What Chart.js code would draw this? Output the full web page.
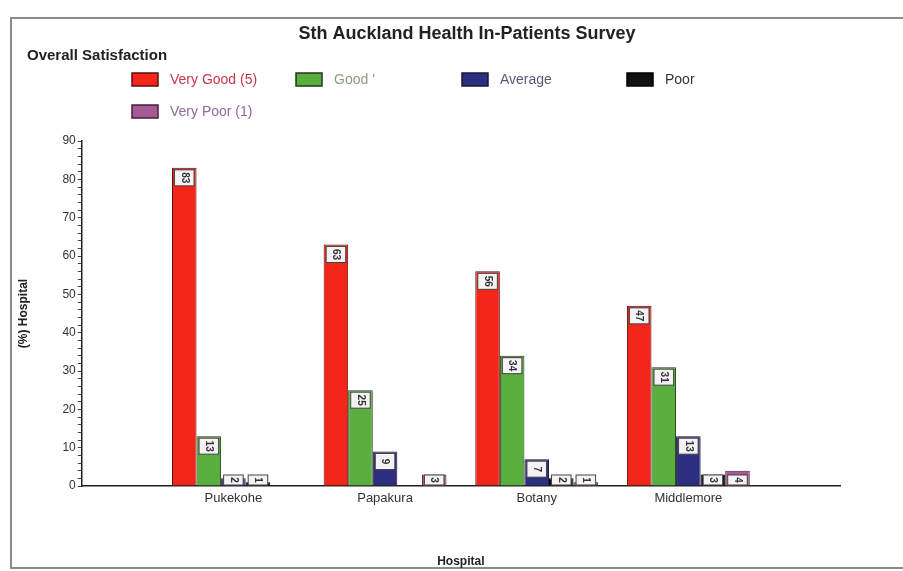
<!DOCTYPE html>
<html>
<head>
<meta charset="utf-8">
<script src="https://cdn.jsdelivr.net/npm/chart.js@4"></script>
<style>
  html, body { margin: 0; padding: 0; background: #fff; }
  #wrap { width: 903px; height: 571px; }
</style>
</head>
<body>
<div id="wrap"><canvas id="myChart" width="903" height="571"></canvas></div>
<script>
// Datos del gráfico
const hospitals = ['Pukekohe', 'Papakura', 'Botany', 'Middlemore'];
const seriesNames = ['Very Good (5)', "Good '", 'Average', 'Poor', 'Very Poor (1)'];
const veryGood = [83, 63, 56, 47];
const good = [13, 25, 34, 31];
const average = [2, 9, 7, 13];
const poor = [1, 0, 2, 3];
const veryPoor = [0, 3, 1, 4];
const yMin = 0, yMax = 90, yStep = 10;

// Colores de cada serie
const fills = ['#f4261a', '#5aae3e', '#2b2f7e', '#111111', '#a45a92'];
const borders = ['#5a1010', '#1f3a14', '#15173d', '#000000', '#4a1e40'];
const textColors = ['#c8364e', '#8c9c84', '#5a5a78', '#333333', '#8f6a98'];

const FONT = '"Liberation Sans", Arial, sans-serif';

// Espacio vacío a cada lado, como en el original
const labels = [''].concat(hospitals, ['']);
function pad(arr) { return [null].concat(arr, [null]); }

const series = [veryGood, good, average, poor, veryPoor];
const datasets = series.map((vals, i) => ({
    label: seriesNames[i],
    data: pad(vals),
    backgroundColor: fills[i],
    borderColor: borders[i],
    borderWidth: 1,
    categoryPercentage: 0.81,
    barPercentage: 1.0
}));

// Fondo y marco
const framePlugin = {
    id: 'frame',
    beforeDraw(chart) {
        const ctx = chart.ctx;
        ctx.save();
        ctx.fillStyle = '#fff';
        ctx.fillRect(0, 0, chart.width, chart.height);
        ctx.strokeStyle = '#8a8a8a';
        ctx.lineWidth = 2;
        ctx.strokeRect(11, 18, chart.width + 10, 550);
        ctx.restore();
    }
};

// Títulos y leyenda dibujados a mano
const headerPlugin = {
    id: 'header',
    afterDraw(chart) {
        const ctx = chart.ctx;
        ctx.save();
        ctx.fillStyle = '#222';
        ctx.textBaseline = 'middle';
        ctx.font = 'bold 18px ' + FONT;
        ctx.textAlign = 'center';
        ctx.fillText('Sth Auckland Health In-Patients Survey', 467, 34);
        ctx.font = 'bold 15px ' + FONT;
        ctx.textAlign = 'left';
        ctx.fillText('Overall Satisfaction', 27, 56);

        // leyenda
        const pos = [[132, 79], [296, 79], [462, 79], [627, 79], [132, 111]];
        ctx.font = '14px ' + FONT;
        seriesNames.forEach((name, i) => {
            const [x, y] = pos[i];
            ctx.fillStyle = fills[i];
            ctx.fillRect(x, y - 6, 26, 13);
            ctx.strokeStyle = borders[i];
            ctx.lineWidth = 1.5;
            ctx.strokeRect(x, y - 6, 26, 13);
            ctx.fillStyle = textColors[i];
            ctx.fillText(name, x + 38, y + 1);
        });
        ctx.restore();
    }
};

// Etiquetas de valor en cada barra (texto girado)
const valuePlugin = {
    id: 'values',
    afterDatasetsDraw(chart) {
        const ctx = chart.ctx;
        const base = chart.scales.y.getPixelForValue(0);
        ctx.save();
        ctx.font = 'bold 10px ' + FONT;
        ctx.textAlign = 'center';
        ctx.textBaseline = 'middle';
        chart.data.datasets.forEach((ds, di) => {
            const meta = chart.getDatasetMeta(di);
            meta.data.forEach((bar, j) => {
                const v = ds.data[j];
                if (v === null || v <= 0) return;
                const w = bar.width - 5;
                let top = bar.y + 2;
                let h = 16;
                if (base - top < 14) { top = base - 11; h = 10; }
                const x = bar.x - w / 2;
                ctx.fillStyle = '#f4f2f4';
                ctx.fillRect(x, top, w, h);
                ctx.strokeStyle = '#444';
                ctx.lineWidth = 1;
                ctx.strokeRect(x, top, w, h);
                ctx.save();
                ctx.translate(bar.x, top + h / 2);
                ctx.rotate(Math.PI / 2);
                ctx.fillStyle = '#333';
                ctx.fillText(String(v), 0, 0);
                ctx.restore();
            });
        });
        ctx.restore();
    }
};

let chart;
function initializeChart() {
    const ctx = document.getElementById('myChart').getContext('2d');
    chart = new Chart(ctx, {
        type: 'bar',
        data: { labels: labels, datasets: datasets },
        options: {
            responsive: false,
            animation: false,
            layout: { padding: { top: 141, left: 16, right: 63, bottom: 2 } },
            plugins: {
                legend: { display: false },
                title: { display: false },
                tooltip: { enabled: false }
            },
            scales: {
                x: {
                    offset: false,
                    grid: { display: false, offset: false },
                    border: { display: true, color: '#222', width: 1.5 },
                    ticks: { color: '#333', font: { family: FONT, size: 13 }, padding: -3 },
                    title: {
                        display: true, text: 'Hospital', color: '#222',
                        font: { family: FONT, size: 12, weight: 'bold' },
                        padding: { top: 51, bottom: 0 }
                    }
                },
                y: {
                    min: yMin,
                    max: yMax,
                    border: { display: true, color: '#222', width: 1.5 },
                    grid: { drawOnChartArea: false, tickLength: 4, color: '#444' },
                    ticks: {
                        stepSize: 2,
                        autoSkip: false,
                        maxTicksLimit: 100,
                        color: '#333',
                        padding: 2,
                        font: { family: FONT, size: 12 },
                        callback: v => (v % yStep === 0 ? v : '')
                    },
                    title: {
                        display: true, text: '(%) Hospital', color: '#222',
                        font: { family: FONT, size: 12, weight: 'bold' },
                        padding: { top: 0, bottom: 30 }
                    }
                }
            }
        },
        plugins: [framePlugin, headerPlugin, valuePlugin]
    });
}

initializeChart();
</script>
</body>
</html>
